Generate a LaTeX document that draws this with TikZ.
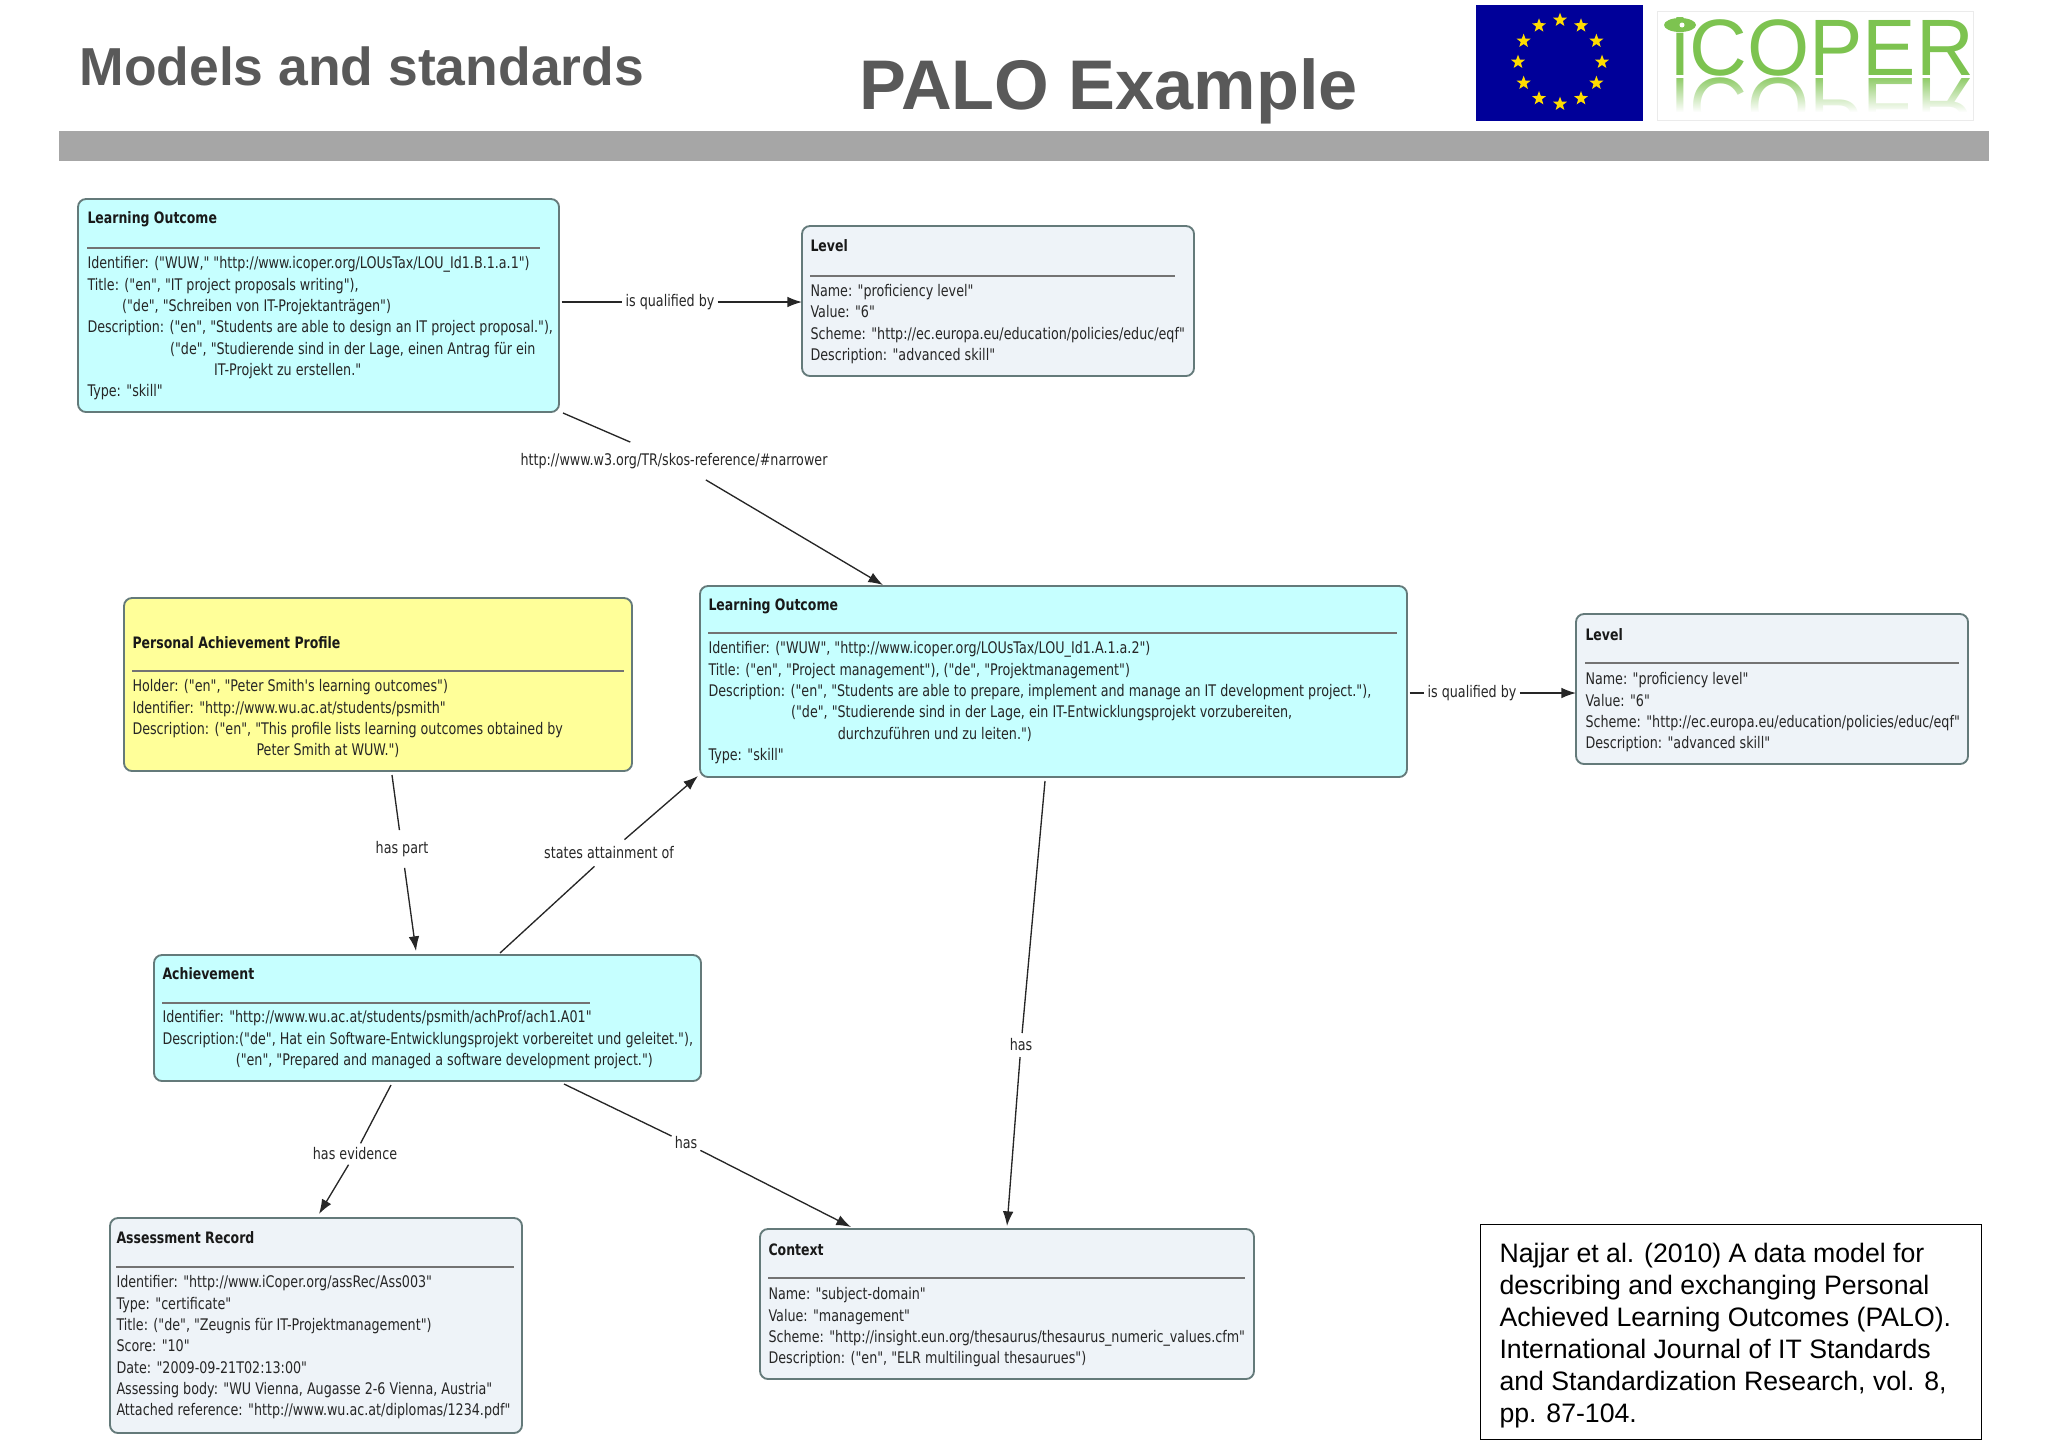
\documentclass[tikz,border=0pt]{standalone}
\usepackage{fontspec}
\setmainfont{Liberation Sans}
\newfontfamily\boxfont[FakeStretch=0.795]{DejaVu Sans}
\usetikzlibrary{arrows.meta,fit,fadings,shapes.geometric}

\definecolor{outcomefill}{RGB}{198,255,255}
\definecolor{greyfill}{RGB}{238,243,248}
\definecolor{profilefill}{RGB}{255,255,153}
\definecolor{headgrey}{RGB}{89,89,89}
\definecolor{bargrey}{RGB}{166,166,166}
\definecolor{flagblue}{RGB}{0,0,153}
\definecolor{starye}{RGB}{255,220,0}
\definecolor{logogreen}{RGB}{125,195,80}
\definecolor{boxedge}{RGB}{100,122,122}

\tikzset{every picture/.style={line width=0.75pt}}
\tikzset{
  entrybox/.style={draw=boxedge, line width=1.4pt, rounded corners=6pt, inner sep=0pt, outer sep=0pt},
  outcomebox/.style={entrybox, fill=outcomefill},
  greybox/.style={entrybox, fill=greyfill},
  profilebox/.style={entrybox, fill=profilefill},
  boxtitle/.style={anchor=west, inner sep=0pt, text=black!90, font=\boxfont\bfseries\fontsize{11.8}{16}\selectfont},
  boxbody/.style={anchor=north west, inner sep=0pt, align=left, text=black!85, font=\boxfont\fontsize{12}{16}\selectfont},
  boxrule/.style={draw=black!55, line width=1pt},
  linklabel/.style={inner xsep=2pt, inner ysep=8pt, text=black!85, font=\boxfont\fontsize{12}{14}\selectfont},
  link/.style={line width=1pt, draw=black!85},
  arrowlink/.style={link, -{Latex[length=11pt,width=8pt]}}
}

\begin{document}
\begin{tikzpicture}[x=0.75pt,y=0.75pt,yscale=-1,xscale=1]
  \useasboundingbox (0,0) rectangle (2048,1447);

  %header
  \node[anchor=base west, inner sep=0pt, text=headgrey, font=\bfseries\fontsize{40.1}{48}\selectfont] (section) at (79,85) {Models and standards};
  \node[anchor=base west, inner sep=0pt, text=headgrey, font=\bfseries\fontsize{52.7}{60}\selectfont] (slidetitle) at (859,109) {PALO Example};

  %flag
  \fill[flagblue] (1476,5) rectangle (1643,121);
  \foreach \a in {0,30,...,330}
    \node[star, star points=5, star point ratio=2.4, fill=starye, inner sep=0pt, minimum size=11pt] (star\a) at ({1560+42*sin(\a)},{62-42*cos(\a)}) {};

  %logo
  \node[anchor=base west, inner sep=0pt, text=logogreen!85, yscale=-1, font=\fontsize{60}{70}\selectfont] (logoflip) at (1671,78) {iCOPER};
  \fill[white, path fading=north] (1658,78) rectangle (1972,112);
  \fill[white] (1658,112) rectangle (1972,131);
  \node[anchor=base west, inner sep=0pt, text=logogreen, font=\fontsize{60}{70}\selectfont] (logo) at (1671,75) {iCOPER};
  \fill[logogreen] (1680,25) ellipse (16 and 7);
  \fill[white] (1682,25) circle (2.5);
  \draw[black!8] (1657,11) rectangle (1973,120);

  %bar
  \fill[bargrey] (59,131) rectangle (1989,161);

  %Learning Outcome top
  \node[outcomebox, fit={(78,199) (559,412)}] (lo1) {};
  \node[boxtitle] (lo1title) at (87,219) {Learning Outcome};
  \draw[boxrule] (87,248) -- (540,248);
  \node[boxbody] (lo1body) at (87,256) {Identifier: ("WUW," "http://www.icoper.org/LOUsTax/LOU\_Id1.B.1.a.1")\\
    Title: ("en", "IT project proposals writing"),\\
    \hspace*{26pt}("de", "Schreiben von IT-Projektanträgen")\\
    Description: ("en", "Students are able to design an IT project proposal."),\\
    \hspace*{62pt}("de", "Studierende sind in der Lage, einen Antrag für ein\\
    \hspace*{95pt}IT-Projekt zu erstellen."\\
    Type: "skill"};

  %Level top
  \node[greybox, fit={(802,226) (1194,376)}] (level1) {};
  \node[boxtitle] (level1title) at (810,246) {Level};
  \draw[boxrule] (810,276) -- (1175,276);
  \node[boxbody] (level1body) at (810,284) {Name: "proficiency level"\\
    Value: "6"\\
    Scheme: "http://ec.europa.eu/education/policies/educ/eqf"\\
    Description: "advanced skill"};

  %Learning Outcome middle
  \node[outcomebox, fit={(700,586) (1407,777)}] (lo2) {};
  \node[boxtitle] (lo2title) at (708,606) {Learning Outcome};
  \draw[boxrule] (708,633) -- (1397,633);
  \node[boxbody] (lo2body) at (708,641) {Identifier: ("WUW", "http://www.icoper.org/LOUsTax/LOU\_Id1.A.1.a.2")\\
    Title: ("en", "Project management"), ("de", "Projektmanagement")\\
    Description: ("en", "Students are able to prepare, implement and manage an IT development project."),\\
    \hspace*{62pt}("de", "Studierende sind in der Lage, ein IT-Entwicklungsprojekt vorzubereiten,\\
    \hspace*{97pt}durchzuführen und zu leiten.")\\
    Type: "skill"};

  %Level right
  \node[greybox, fit={(1576,614) (1968,764)}] (level2) {};
  \node[boxtitle] (level2title) at (1585,635) {Level};
  \draw[boxrule] (1585,663) -- (1959,663);
  \node[boxbody] (level2body) at (1585,672) {Name: "proficiency level"\\
    Value: "6"\\
    Scheme: "http://ec.europa.eu/education/policies/educ/eqf"\\
    Description: "advanced skill"};

  %Personal Achievement Profile
  \node[profilebox, fit={(124,598) (632,771)}] (pap) {};
  \node[boxtitle] (paptitle) at (132,643) {Personal Achievement Profile};
  \draw[boxrule] (132,671) -- (624,671);
  \node[boxbody] (papbody) at (132,679) {Holder: ("en", "Peter Smith's learning outcomes")\\
    Identifier: "http://www.wu.ac.at/students/psmith"\\
    Description: ("en", "This profile lists learning outcomes obtained by\\
    \hspace*{93pt}Peter Smith at WUW.")};

  %Achievement
  \node[outcomebox, fit={(154,955) (701,1081)}] (ach) {};
  \node[boxtitle] (achtitle) at (162,974) {Achievement};
  \draw[boxrule] (162,1003) -- (590,1003);
  \node[boxbody] (achbody) at (162,1010) {Identifier: "http://www.wu.ac.at/students/psmith/achProf/ach1.A01"\\
    Description:("de", Hat ein Software-Entwicklungsprojekt vorbereitet und geleitet."),\\
    \hspace*{55pt}("en", "Prepared and managed a software development project.")};

  %Assessment Record
  \node[greybox, fit={(110,1218) (522,1433)}] (assess) {};
  \node[boxtitle] (assesstitle) at (116,1238) {Assessment Record};
  \draw[boxrule] (116,1267) -- (514,1267);
  \node[boxbody] (assessbody) at (116,1275) {Identifier: "http://www.iCoper.org/assRec/Ass003"\\
    Type: "certificate"\\
    Title: ("de", "Zeugnis für IT-Projektmanagement")\\
    Score: "10"\\
    Date: "2009-09-21T02:13:00"\\
    Assessing body: "WU Vienna, Augasse 2-6 Vienna, Austria"\\
    Attached reference: "http://www.wu.ac.at/diplomas/1234.pdf"};

  %Context
  \node[greybox, fit={(760,1229) (1254,1379)}] (context) {};
  \node[boxtitle] (contexttitle) at (768,1250) {Context};
  \draw[boxrule] (768,1278) -- (1245,1278);
  \node[boxbody] (contextbody) at (768,1287) {Name: "subject-domain"\\
    Value: "management"\\
    Scheme: "http://insight.eun.org/thesaurus/thesaurus\_numeric\_values.cfm"\\
    Description: ("en", "ELR multilingual thesaurues")};

  %reference
  \node[draw, line width=0.75pt, fit={(1480,1224) (1981,1439)}, inner sep=0pt] (refbox) {};
  \node[anchor=north west, inner sep=0pt, align=left, font=\fontsize{20}{24}\selectfont] (reftext) at (1499,1243) {Najjar et al. (2010) A data model for\\
    describing and exchanging Personal\\
    Achieved Learning Outcomes (PALO).\\
    International Journal of IT Standards\\
    and Standardization Research, vol. 8,\\
    pp. 87-104.};

  %connectors
  \node[linklabel, inner ysep=2pt] (qual1) at (670,302) {is qualified by};
  \draw[link, shorten <=2pt] (lo1.east |- qual1) -- (qual1);
  \draw[arrowlink] (qual1) -- (level1.west |- qual1);

  \node[linklabel] (narrower) at (674,461) {http://www.w3.org/TR/skos-reference/\#narrower};
  \coordinate (lo1out) at (563,413);
  \coordinate (lo2in) at (883,585);
  \draw[link] (lo1out) -- (narrower);
  \draw[arrowlink] (narrower) -- (lo2in);

  \node[linklabel, inner ysep=2pt] (qual2) at (1472,693) {is qualified by};
  \draw[link, shorten <=2pt] (lo2.east |- qual2) -- (qual2);
  \draw[arrowlink] (qual2) -- (level2.west |- qual2);

  \node[linklabel] (haspart) at (402,849) {has part};
  \coordinate (papout) at (392,775);
  \coordinate (achin) at (416,951);
  \draw[link] (papout) -- (haspart);
  \draw[arrowlink] (haspart) -- (achin);

  \node[linklabel, inner ysep=5pt] (states) at (609,853) {states attainment of};
  \coordinate (achout) at (500,953);
  \coordinate (lo2left) at (698,776);
  \draw[link] (achout) -- (states);
  \draw[arrowlink] (states) -- (lo2left);

  \node[linklabel, inner ysep=4pt] (hascontext) at (1021,1045) {has};
  \coordinate (lo2out) at (1045,781);
  \coordinate (contextin) at (1007,1226);
  \draw[link] (lo2out) -- (hascontext);
  \draw[arrowlink] (hascontext) -- (contextin);

  \node[linklabel, inner ysep=3pt] (hasevidence) at (355,1154) {has evidence};
  \coordinate (achdown) at (391,1085);
  \coordinate (assessin) at (319,1214);
  \draw[link] (achdown) -- (hasevidence);
  \draw[arrowlink] (hasevidence) -- (assessin);

  \node[linklabel] (hasach) at (686,1143) {has};
  \coordinate (achright) at (564,1084);
  \coordinate (contextleft) at (851,1227);
  \draw[link] (achright) -- (hasach);
  \draw[arrowlink] (hasach) -- (contextleft);
\end{tikzpicture}
\end{document}
